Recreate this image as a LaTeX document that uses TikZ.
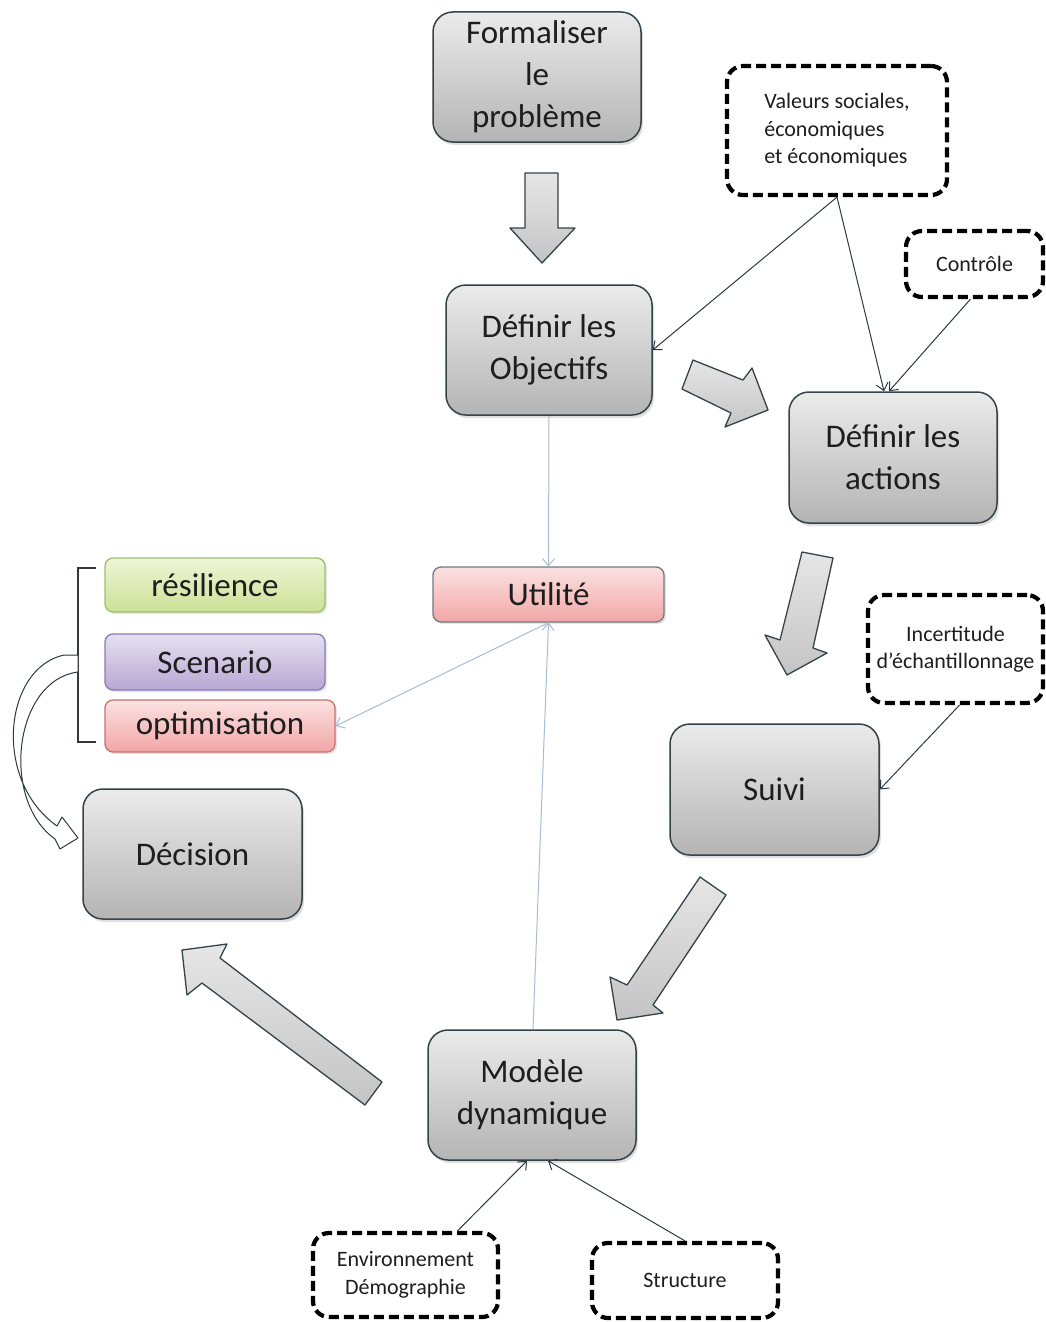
\documentclass[tikz,border=0pt]{standalone}
\usepackage{fontspec}
\setmainfont{Carlito}
\usetikzlibrary{arrows.meta,shadows}
\definecolor{bord}{HTML}{34424A}
\definecolor{txt}{HTML}{1E1E1E}
\definecolor{gtop}{HTML}{EBEBEB}
\definecolor{gbot}{HTML}{B4B4B4}
\definecolor{atop}{HTML}{E6E6E6}
\definecolor{abot}{HTML}{C4C4C4}
\definecolor{lineclr}{HTML}{2E3A40}
\definecolor{lightclr}{HTML}{A9BCD2}
\definecolor{rtop}{HTML}{EEF5D6}
\definecolor{rbot}{HTML}{CCE196}
\definecolor{rbord}{HTML}{9FBF70}
\definecolor{stop}{HTML}{E6E0F0}
\definecolor{sbot}{HTML}{B7A7D3}
\definecolor{sbord}{HTML}{8A7AB4}
\definecolor{ptop}{HTML}{FBE2E2}
\definecolor{pbot}{HTML}{F2A6A6}
\definecolor{pbord}{HTML}{C8726E}
\begin{document}
\begin{tikzpicture}[x=1pt,y=-1pt,
  bigfont/.style={font=\fontsize{33}{42}\selectfont, text=txt},
  smallfont/.style={font=\fontsize{22}{27.5}\selectfont, text=txt},
  gbox/.style={draw=bord, line width=1.5pt, rounded corners=20pt,
    top color=gtop, bottom color=gbot, align=center, bigfont,
    drop shadow={opacity=0.25, shadow xshift=2pt, shadow yshift=-3pt}},
  cbox/.style={line width=1.3pt, rounded corners=8pt, align=center, bigfont,
    drop shadow={opacity=0.2, shadow xshift=2pt, shadow yshift=-2pt}},
  dbox/.style={draw=black, line width=4.2pt, dash pattern=on 10pt off 5pt,
    rounded corners=16pt, fill=white, smallfont},
  conn/.style={draw=lineclr, line width=1pt, -{Straight Barb[length=7pt,width=12pt]}},
  lightconn/.style={draw=lightclr, line width=1pt, -{Straight Barb[length=7pt,width=12pt]}},
  barrow/.style={draw=bord, line width=1.3pt, line join=round, top color=atop, bottom color=abot}
]
\useasboundingbox (0,0) rectangle (1045,1322);
\fill[white] (0,0) rectangle (1045,1322);

% main grey boxes
\node[gbox, minimum width=208pt, minimum height=130pt] (form) at (537,77) {Formaliser\\le\\problème};
\node[gbox, minimum width=206pt, minimum height=130pt] (obj) at (549,350) {Définir les\\Objectifs};
\node[gbox, minimum width=208pt, minimum height=131pt] (act) at (893,457.5) {Définir les\\actions};
\node[gbox, minimum width=209pt, minimum height=131pt] (suivi) at (774.5,789.5) {Suivi};
\node[gbox, minimum width=208pt, minimum height=130pt] (mod) at (532,1095) {Modèle\\dynamique};
\node[gbox, minimum width=219pt, minimum height=130pt] (dec) at (192.5,854) {Décision};

% coloured boxes
\node[cbox, draw=bord!70, top color=ptop, bottom color=pbot, minimum width=231pt, minimum height=55pt] (util) at (548.5,594.5) {Utilité};
\node[cbox, draw=rbord, top color=rtop, bottom color=rbot, minimum width=220pt, minimum height=54pt] (res) at (215,585) {résilience};
\node[cbox, draw=sbord, top color=stop, bottom color=sbot, minimum width=220pt, minimum height=56pt] (scen) at (215,662) {Scenario};
\node[cbox, draw=pbord, top color=ptop, bottom color=pbot, minimum width=230pt, minimum height=52pt] (optim) at (220,726) {optimisation};

% dashed boxes
\node[dbox, minimum width=220pt, minimum height=129pt, align=left] (val) at (837,130.5) {Valeurs sociales,\\économiques\\et économiques};
\node[dbox, minimum width=137pt, minimum height=66pt] (ctrl) at (974.5,264) {Contrôle};
\node[dbox, minimum width=175pt, minimum height=108pt, align=center] (inc) at (955.5,649) {Incertitude\\d’échantillonnage};
\node[dbox, minimum width=185pt, minimum height=84pt, align=center] (env) at (405.5,1275) {Environnement\\Démographie};
\node[dbox, minimum width=186pt, minimum height=75pt] (struc) at (685,1280.5) {Structure};

% block arrows
\draw[barrow] (525,173) -- (558,173) -- (558,228) -- (575,228) -- (542,263) -- (510,228) -- (525,228) -- cycle;
\draw[barrow] (682,389) -- (693,360) -- (743,380) -- (752,368) -- (768,410) -- (725,427) -- (731,413) -- cycle;
\draw[barrow] (802,552) -- (833,558) -- (813,648) -- (827,653) -- (787,675) -- (765,635) -- (780,640) -- cycle;
\draw[barrow] (700,877) -- (726,895) -- (653,1005) -- (663,1013) -- (617,1020) -- (610,977) -- (627,985) -- cycle;
\draw[barrow] (182,950) -- (227,944) -- (220,958) -- (382,1082) -- (365,1105) -- (202,983) -- (187,995) -- cycle;

% thin connectors
\draw[conn] (val.south) -- (obj.east);
\draw[conn] (val.south) -- ([xshift=-9pt]act.north);
\draw[conn] ([xshift=-4pt]ctrl.south) -- ([xshift=-4pt]act.north);
\draw[conn] ([xshift=4pt]inc.south) -- (suivi.east);
\draw[conn] ([xshift=52pt]env.north) -- ([xshift=-5pt]mod.south);
\draw[conn] (struc.north) -- ([xshift=16pt]mod.south);

% light connectors
\draw[lightconn] (obj.south) -- (util.north);
\draw[lightconn] ([xshift=1pt]mod.north) -- (util.south);
\draw[lightconn] (util.south) -- (optim.east);

% bracket
\draw[lineclr, line width=1.2pt] (96,568) -- (78,568) -- (78,742) -- (96,742);

% curved hollow arrow
\draw[lineclr, line width=1pt, fill=white, line join=round]
  (78,655) -- (64,655) .. controls (4,668) and (-8,780) .. (57,826)
  -- (62,817) -- (78,838) -- (60,849) -- (55,839)
  .. controls (0,800) and (14,680) .. (78,672) -- cycle;
\end{tikzpicture}
\end{document}
